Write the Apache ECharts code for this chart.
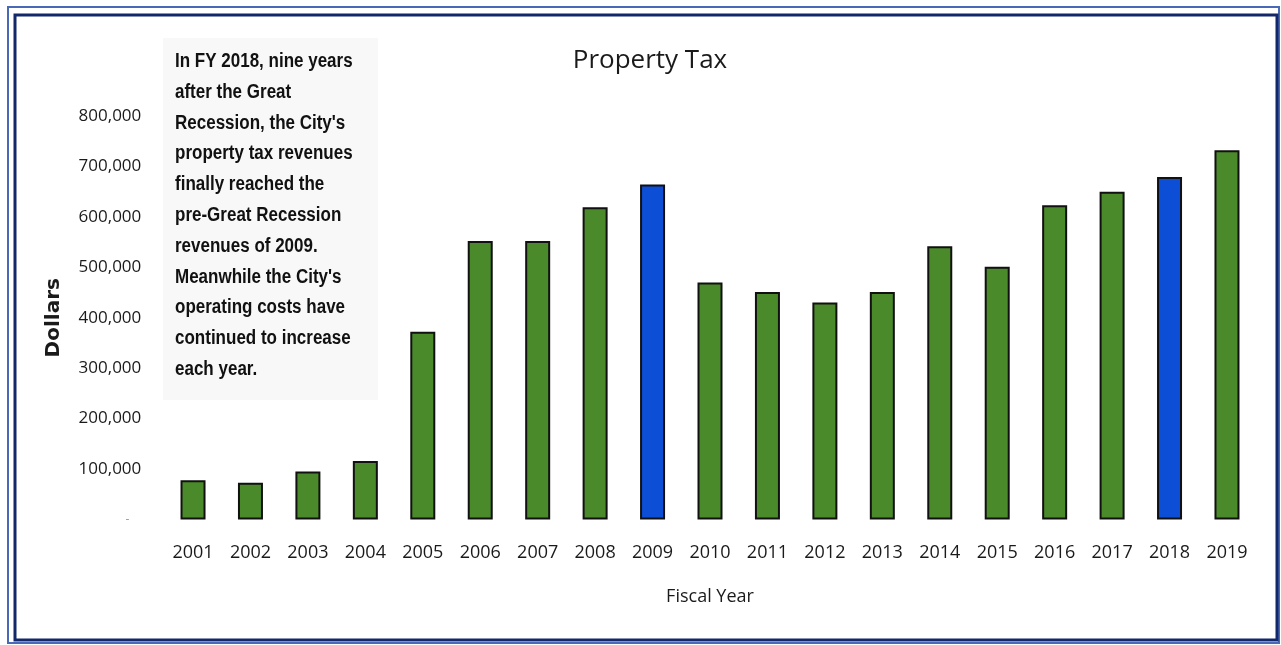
<!DOCTYPE html>
<html>
<head>
<meta charset="utf-8">
<script src="https://cdn.jsdelivr.net/npm/echarts@6/dist/echarts.min.js"></script>
<style>
html,body{margin:0;padding:0;background:#fff;}
#chart{width:1281px;height:645px;}
</style>
</head>
<body>
<div id="chart"></div>
<script>
const years = ['2001','2002','2003','2004','2005','2006','2007','2008','2009','2010','2011','2012','2013','2014','2015','2016','2017','2018','2019'];
const propertyTax = [78000,73000,95000,116000,372000,552000,552000,619000,664000,470000,451000,430000,451000,542000,501000,623000,650000,679000,732000];
const highlightYears = ['2009','2018'];
const yTicks = [0,100000,200000,300000,400000,500000,600000,700000,800000];
const noteLines = [
  "In FY 2018, nine years",
  "after the Great",
  "Recession, the City's",
  "property tax revenues",
  "finally reached the",
  "pre-Great Recession",
  "revenues of 2009.",
  "Meanwhile the City's",
  "operating costs have",
  "continued to increase",
  "each year."
];

const GREEN = '#4b8a2b';
const BLUE = '#0c4fd6';

const chart = echarts.init(document.getElementById('chart'));
chart.setOption({
  backgroundColor: '#ffffff',
  animation: false,
  title: {
    text: 'Property Tax',
    left: 645, top: 43, textAlign: 'center',
    textStyle: { fontFamily: 'Open Sans', fontWeight: 'normal', fontSize: 26, color: '#1a1a1a' }
  },
  grid: { left: 164.3, right: 25.3, top: 116, bottom: 125.5, containLabel: false },
  xAxis: {
    type: 'category',
    data: years,
    axisLine: { show: false },
    axisTick: { show: false },
    axisLabel: { margin: 24, fontFamily: 'Open Sans', fontSize: 18, color: '#1a1a1a' },
    name: 'Fiscal Year',
    nameLocation: 'middle',
    nameGap: 68,
    nameTextStyle: { fontFamily: 'Open Sans', fontSize: 18, color: '#1a1a1a' }
  },
  yAxis: {
    type: 'value',
    min: yTicks[0],
    max: yTicks[yTicks.length - 1],
    interval: yTicks[1] - yTicks[0],
    axisLine: { show: false },
    axisTick: { show: false },
    splitLine: { show: false },
    axisLabel: {
      margin: 23,
      fontFamily: 'Open Sans', fontSize: 17, color: '#1a1a1a',
      formatter: v => v === 0 ? '{z|-}' : v.toLocaleString('en-US'),
      rich: { z: { fontSize: 12, color: '#999999', fontFamily: 'Open Sans', padding: [0, 12, 0, 0] } }
    },
    name: 'Dollars',
    nameLocation: 'middle',
    nameGap: 101,
    nameRotate: 90,
    nameTextStyle: { fontFamily: 'DejaVu Sans', fontWeight: 'bold', fontSize: 20, color: '#1a1a1a' }
  },
  series: [{
    type: 'bar',
    barWidth: 25,
    data: propertyTax.map((v, i) => ({
      value: v,
      itemStyle: { color: highlightYears.includes(years[i]) ? BLUE : GREEN }
    })),
    itemStyle: { borderColor: '#111111', borderWidth: 2 }
  }],
  graphic: [
    { type: 'rect', shape: { x: 8, y: 7, width: 1271, height: 636 }, style: { fill: 'none', stroke: '#4a68b8', lineWidth: 2 }, z: 100 },
    { type: 'rect', shape: { x: 15, y: 15, width: 1262, height: 625 }, style: { fill: 'none', stroke: '#13286a', lineWidth: 3 }, z: 100 },
    { type: 'rect', shape: { x: 163, y: 38, width: 215, height: 362 }, style: { fill: '#f8f8f8' }, z: 0 },
    {
      type: 'text', x: 175, y: 46, scaleX: 0.85, z: 50,
      style: {
        text: noteLines.join('\n'),
        font: 'bold 20px "Liberation Sans", Arial, sans-serif',
        fill: '#111111',
        lineHeight: 30.8
      }
    }
  ]
});
</script>
</body>
</html>
